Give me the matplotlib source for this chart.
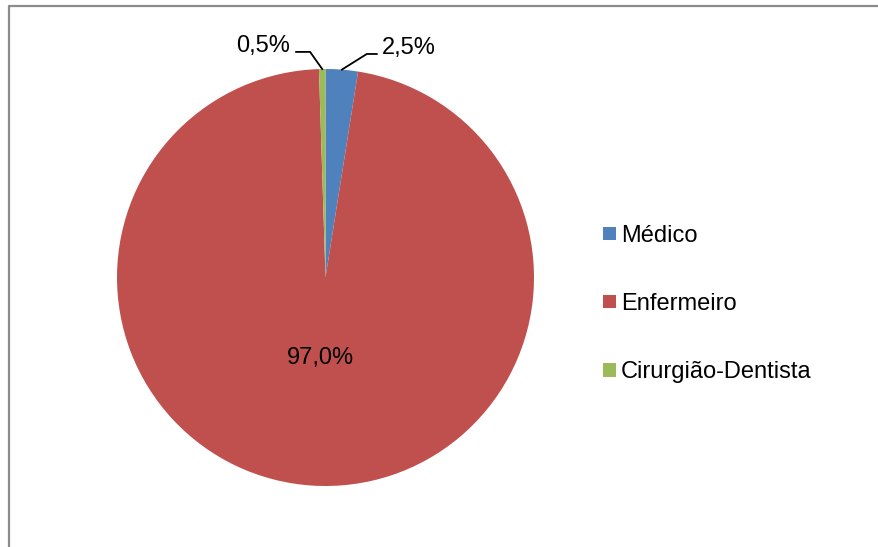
import numpy as np
import matplotlib
matplotlib.use("Agg")
import matplotlib.pyplot as plt
from matplotlib.patches import Patch
from matplotlib.lines import Line2D

plt.rcParams['font.family'] = ['Liberation Sans', 'DejaVu Sans']

categorias = ["Médico", "Enfermeiro", "Cirurgião-Dentista"]
percentuais = [2.5, 97.0, 0.5]
cores = ["#4F81BD", "#C0504D", "#9BBB59"]
rotulos = ["2,5%", "97,0%", "0,5%"]

fig = plt.figure(figsize=(8.79, 5.47), dpi=100)

# moldura cinza do gráfico (só topo e esquerda aparecem)
fig.add_artist(Line2D([9 / 879, 9 / 879, 1.0], [0.0, 1 - 5.5 / 547, 1 - 5.5 / 547],
                      transform=fig.transFigure, color="#8C8C8C", lw=1.6))

ax = fig.add_axes([117 / 879, 61 / 547, 417 / 879, 417 / 547])
wedges, _ = ax.pie(percentuais, colors=cores, startangle=90, counterclock=False,
                   wedgeprops=dict(linewidth=0))
ax.set_xlim(-1, 1)
ax.set_ylim(-1, 1)
ax.set_aspect("equal")

# ângulo médio de cada fatia
angs = [np.deg2rad((w.theta1 + w.theta2) / 2) for w in wedges]
fs = 17

# rótulo interno da fatia grande
r = 0.385
ax.text(r * np.cos(angs[1]), r * np.sin(angs[1]), rotulos[1], fontsize=fs,
        ha="center", va="center")

# rótulos externos com linha de chamada
for i, (bx, by, hx, tx, ha) in {0: (0.198, 1.072, 0.246, 0.27, "left"),
                                2: (-0.074, 1.082, -0.141, -0.17, "right")}.items():
    ex, ey = np.cos(angs[i]), np.sin(angs[i])
    ax.plot([ex, bx, hx], [ey, by, by], color="black", lw=1.3, clip_on=False)
    ax.text(tx, by + 0.03, rotulos[i], fontsize=fs, ha=ha, va="center")

handles = [Patch(facecolor=c, edgecolor="none") for c in cores]
fig.legend(handles, categorias, loc="center left", bbox_to_anchor=(603 / 879, 1 - 304 / 547),
           frameon=False, fontsize=fs, borderpad=0, borderaxespad=0,
           handlelength=0.55, handleheight=0.5, handletextpad=0.2, labelspacing=1.96)

fig.savefig("out.png", dpi=100)
